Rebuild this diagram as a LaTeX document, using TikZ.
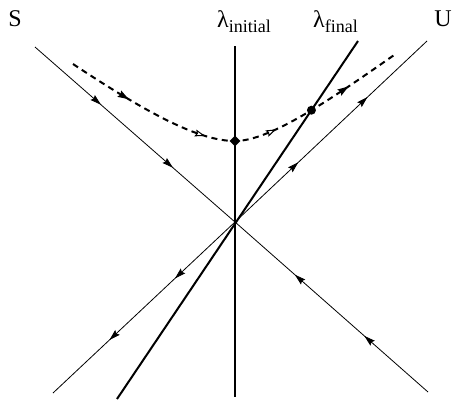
\documentclass[tikz,border=0pt]{standalone}
\usepackage{fontspec}
\setmainfont{Liberation Serif}
\usetikzlibrary{decorations.markings,arrows.meta,intersections,shapes.geometric}
\begin{document}
\begin{tikzpicture}[x=1pt,y=-1pt,
  thinline/.style={line width=0.8pt},
  thickline/.style={line width=2pt},
  flow/.style={postaction={decorate},decoration={markings,
     mark=at position 0.33 with {\arrow{Stealth[length=11pt,width=6.5pt,inset=1.5pt]}},
     mark=at position 0.69 with {\arrow{Stealth[length=11pt,width=6.5pt,inset=1.5pt]}}}},
  dashflow/.style={postaction={decorate},decoration={markings,
     mark=at position 0.18 with {\arrow[solid]{Stealth[length=11pt,width=7pt,inset=1.5pt]}},
     mark=at position 0.41 with {\arrow[solid,line width=1pt]{Stealth[open,length=10pt,width=7pt,inset=1.5pt]}},
     mark=at position 0.61 with {\arrow[solid,line width=1pt]{Stealth[open,length=10pt,width=7pt,inset=1.5pt]}},
     mark=at position 0.84 with {\arrow[solid]{Stealth[length=11pt,width=7pt,inset=1.5pt]}}}},
  lbl/.style={inner sep=0pt,font=\fontsize{24}{24}\selectfont}]
\useasboundingbox (0,0) rectangle (458,402);
\coordinate (O) at (235,222);
\coordinate (S1) at (35,47);
\coordinate (S2) at (428,392);
\coordinate (U1) at (427,41);
\coordinate (U2) at (53,393);
\coordinate (I1) at (235,46);
\coordinate (I2) at (235,397);
\coordinate (F1) at (358,41);
\coordinate (F2) at (117,399);
\coordinate (C0) at (73,64);
\coordinate (C1) at (235,141);
\coordinate (C2) at (397,53);
% separatrices
\draw[thinline,flow] (S1) -- (O);
\draw[thinline,flow] (S2) -- (O);
\draw[thinline,flow] (O) -- (U1);
\draw[thinline,flow] (O) -- (U2);
% lambda lines
\draw[line width=1.8pt] (I1) -- (I2);
\draw[thickline,name path=finalline] (F1) -- (F2);
% dashed trajectory
\draw[line width=2pt,dash pattern=on 6pt off 4.5pt,dashflow,name path=traj]
  (C0) .. controls (150,115) and (200,141) .. (C1)
       .. controls (270,141) and (330,100) .. (C2);
\node[diamond,fill=black,inner sep=0pt,minimum size=11pt] (D) at (C1) {};
\path[name intersections={of=finalline and traj,by=X}];
\node[circle,fill=black,inner sep=0pt,minimum size=9pt] (P) at (X) {};
% labels
\node[lbl] (S) at (15,19) {S};
\node[lbl] (U) at (443,19) {U};
\node[lbl,anchor=base west] (LI) at (217,27) {λ\raisebox{-5pt}{\fontsize{18}{18}\selectfont initial}};
\node[lbl,anchor=base west] (LF) at (313,27) {λ\raisebox{-5pt}{\fontsize{18}{18}\selectfont final}};
\end{tikzpicture}
\end{document}
